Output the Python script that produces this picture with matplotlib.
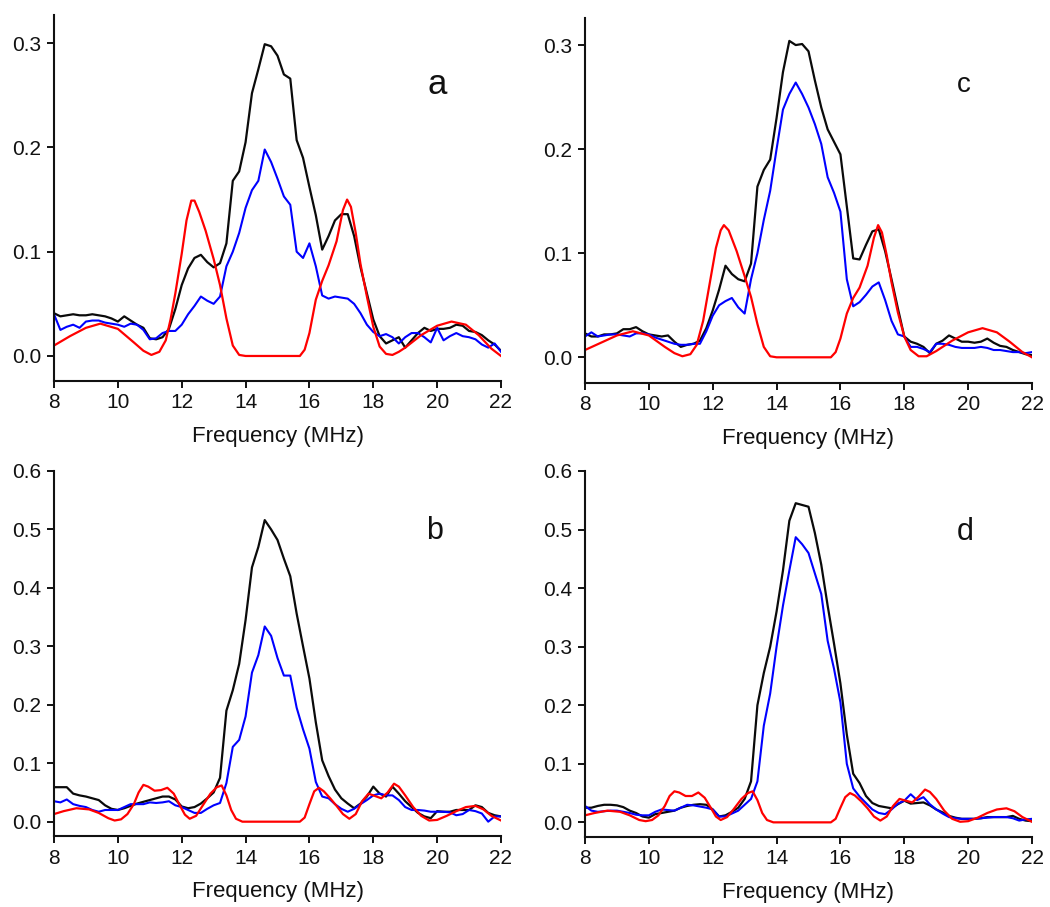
import numpy as np
import matplotlib
matplotlib.use("Agg")
import matplotlib.pyplot as plt

plt.rcParams['font.family'] = ['Liberation Sans', 'DejaVu Sans']

# common frequency grid (MHz) for measured spectra
freq = np.round(np.arange(8.0, 22.0001, 0.2), 2)

black_a = [0.041, 0.038, 0.039, 0.040, 0.039, 0.039, 0.040, 0.039, 0.038, 0.036,
           0.033, 0.038, 0.034, 0.030, 0.027, 0.017, 0.016, 0.018, 0.026, 0.045,
           0.068, 0.084, 0.094, 0.097, 0.090, 0.085, 0.089, 0.108, 0.168, 0.177,
           0.205, 0.252, 0.275, 0.299, 0.297, 0.288, 0.270, 0.266, 0.207, 0.190,
           0.162, 0.135, 0.102, 0.115, 0.130, 0.136, 0.136, 0.115, 0.085, 0.060,
           0.035, 0.019, 0.012, 0.015, 0.018, 0.008, 0.015, 0.022, 0.027, 0.024,
           0.026, 0.026, 0.027, 0.030, 0.029, 0.024, 0.023, 0.020, 0.015, 0.011,
           0.005]
blue_a = [0.040, 0.025, 0.028, 0.030, 0.027, 0.033, 0.034, 0.034, 0.032, 0.031,
          0.030, 0.028, 0.031, 0.030, 0.025, 0.016, 0.017, 0.022, 0.024, 0.024,
          0.030, 0.040, 0.048, 0.057, 0.053, 0.050, 0.057, 0.086, 0.100, 0.118,
          0.142, 0.159, 0.168, 0.198, 0.186, 0.170, 0.153, 0.145, 0.100, 0.094,
          0.108, 0.086, 0.058, 0.055, 0.057, 0.056, 0.055, 0.050, 0.041, 0.030,
          0.023, 0.019, 0.021, 0.018, 0.012, 0.018, 0.022, 0.022, 0.018, 0.013,
          0.027, 0.015, 0.019, 0.022, 0.019, 0.018, 0.016, 0.011, 0.008, 0.012,
          0.004]

black_c = [0.023, 0.020, 0.020, 0.022, 0.022, 0.023, 0.027, 0.027, 0.029, 0.025,
           0.022, 0.021, 0.020, 0.021, 0.015, 0.010, 0.012, 0.013, 0.016, 0.028,
           0.045, 0.065, 0.088, 0.080, 0.075, 0.073, 0.090, 0.164, 0.180, 0.190,
           0.230, 0.274, 0.304, 0.300, 0.301, 0.294, 0.266, 0.240, 0.219, 0.207,
           0.195, 0.145, 0.095, 0.094, 0.108, 0.121, 0.123, 0.102, 0.075, 0.047,
           0.020, 0.015, 0.013, 0.010, 0.004, 0.013, 0.016, 0.021, 0.018, 0.015,
           0.015, 0.014, 0.015, 0.018, 0.014, 0.011, 0.010, 0.007, 0.005, 0.003,
           0.002]
blue_c = [0.020, 0.024, 0.020, 0.021, 0.022, 0.022, 0.021, 0.020, 0.023, 0.023,
          0.022, 0.019, 0.017, 0.015, 0.013, 0.012, 0.012, 0.013, 0.013, 0.025,
          0.040, 0.050, 0.054, 0.057, 0.048, 0.042, 0.075, 0.100, 0.132, 0.160,
          0.200, 0.238, 0.253, 0.264, 0.253, 0.240, 0.224, 0.205, 0.173, 0.158,
          0.140, 0.075, 0.049, 0.053, 0.060, 0.068, 0.072, 0.055, 0.035, 0.022,
          0.020, 0.010, 0.010, 0.008, 0.005, 0.013, 0.013, 0.012, 0.010, 0.009,
          0.009, 0.009, 0.010, 0.009, 0.007, 0.007, 0.006, 0.005, 0.005, 0.004,
          0.005]

black_b = [0.059, 0.059, 0.059, 0.048, 0.045, 0.043, 0.040, 0.037, 0.028, 0.022,
           0.020, 0.023, 0.027, 0.031, 0.034, 0.037, 0.040, 0.043, 0.043, 0.038,
           0.026, 0.023, 0.025, 0.031, 0.040, 0.050, 0.075, 0.190, 0.225, 0.270,
           0.345, 0.435, 0.470, 0.516, 0.500, 0.482, 0.450, 0.420, 0.356, 0.300,
           0.245, 0.170, 0.105, 0.078, 0.055, 0.040, 0.031, 0.023, 0.031, 0.043,
           0.060, 0.048, 0.043, 0.060, 0.048, 0.035, 0.025, 0.015, 0.009, 0.006,
           0.018, 0.017, 0.017, 0.020, 0.020, 0.020, 0.028, 0.025, 0.015, 0.011,
           0.009]
blue_b = [0.035, 0.033, 0.038, 0.030, 0.027, 0.025, 0.020, 0.017, 0.020, 0.020,
          0.020, 0.025, 0.030, 0.030, 0.030, 0.033, 0.032, 0.033, 0.035, 0.028,
          0.025, 0.020, 0.015, 0.015, 0.022, 0.028, 0.032, 0.066, 0.128, 0.140,
          0.180, 0.255, 0.285, 0.334, 0.318, 0.280, 0.250, 0.250, 0.195, 0.158,
          0.125, 0.068, 0.043, 0.040, 0.030, 0.022, 0.017, 0.022, 0.030, 0.037,
          0.045, 0.048, 0.045, 0.045, 0.037, 0.025, 0.020, 0.020, 0.019, 0.017,
          0.017, 0.017, 0.016, 0.011, 0.013, 0.020, 0.018, 0.014, 0.000, 0.009,
          0.009]

black_d = [0.025, 0.025, 0.028, 0.030, 0.030, 0.029, 0.026, 0.020, 0.016, 0.010,
           0.008, 0.014, 0.016, 0.018, 0.020, 0.025, 0.028, 0.030, 0.031, 0.030,
           0.022, 0.010, 0.012, 0.018, 0.025, 0.040, 0.070, 0.200, 0.255, 0.300,
           0.360, 0.430, 0.515, 0.545, 0.542, 0.539, 0.494, 0.440, 0.370, 0.305,
           0.237, 0.150, 0.083, 0.067, 0.045, 0.033, 0.028, 0.026, 0.024, 0.031,
           0.037, 0.032, 0.033, 0.034, 0.029, 0.022, 0.017, 0.011, 0.008, 0.006,
           0.006, 0.006, 0.007, 0.009, 0.009, 0.009, 0.009, 0.011, 0.006, 0.003,
           0.002]
blue_d = [0.028, 0.020, 0.018, 0.019, 0.020, 0.020, 0.018, 0.016, 0.013, 0.012,
          0.012, 0.018, 0.022, 0.021, 0.020, 0.025, 0.030, 0.029, 0.027, 0.025,
          0.022, 0.010, 0.010, 0.015, 0.020, 0.030, 0.040, 0.070, 0.165, 0.220,
          0.300, 0.370, 0.430, 0.487, 0.475, 0.460, 0.425, 0.390, 0.310, 0.262,
          0.205, 0.100, 0.058, 0.044, 0.033, 0.022, 0.016, 0.014, 0.022, 0.032,
          0.037, 0.048, 0.038, 0.043, 0.031, 0.022, 0.015, 0.009, 0.007, 0.006,
          0.006, 0.006, 0.007, 0.008, 0.009, 0.009, 0.009, 0.007, 0.003, 0.005,
          0.006]

# calculated (red) curves, own frequency samples
red_x_a = [8.0, 8.5, 9.0, 9.45, 10.0, 10.5, 10.8, 11.05, 11.3, 11.5, 11.65, 11.8, 12.0, 12.15,
           12.3, 12.4, 12.55, 12.75, 13.0, 13.2, 13.4, 13.6, 13.8, 14.0, 15.7, 15.85, 16.0,
           16.2, 16.4, 16.6, 16.85, 17.05, 17.18, 17.3, 17.45, 17.6, 17.8, 18.0, 18.2, 18.4,
           18.6, 18.8, 19.0, 19.5, 20.0, 20.45, 20.9, 21.3, 21.7, 22.0]
red_a = [0.010, 0.019, 0.027, 0.031, 0.026, 0.013, 0.005, 0.001, 0.004, 0.015, 0.035, 0.060,
         0.098, 0.130, 0.149, 0.149, 0.138, 0.120, 0.093, 0.068, 0.036, 0.010, 0.001, 0.0,
         0.0, 0.006, 0.022, 0.054, 0.072, 0.087, 0.110, 0.140, 0.150, 0.143, 0.118, 0.088,
         0.057, 0.028, 0.009, 0.002, 0.001, 0.004, 0.008, 0.020, 0.029, 0.033, 0.030, 0.020,
         0.007, 0.0]

red_x_c = [8.0, 8.5, 9.0, 9.5, 10.0, 10.5, 10.8, 11.05, 11.3, 11.5, 11.7, 11.9, 12.1, 12.25,
           12.35, 12.5, 12.75, 13.0, 13.2, 13.4, 13.6, 13.8, 14.0, 15.7, 15.85, 16.0, 16.2,
           16.4, 16.6, 16.85, 17.05, 17.18, 17.3, 17.45, 17.6, 17.8, 18.0, 18.2, 18.45, 18.7,
           19.0, 19.5, 20.0, 20.45, 20.9, 21.3, 21.7, 22.0]
red_c = [0.007, 0.014, 0.021, 0.025, 0.021, 0.010, 0.004, 0.001, 0.003, 0.012, 0.035, 0.070,
         0.105, 0.122, 0.127, 0.122, 0.102, 0.078, 0.058, 0.032, 0.010, 0.001, 0.0, 0.0,
         0.005, 0.018, 0.042, 0.057, 0.067, 0.088, 0.115, 0.127, 0.120, 0.098, 0.072, 0.043,
         0.020, 0.007, 0.001, 0.001, 0.006, 0.016, 0.024, 0.028, 0.024, 0.015, 0.005, 0.0]

red_x_bd = [8.0, 8.3, 8.7, 9.1, 9.4, 9.7, 9.9, 10.1, 10.3, 10.5, 10.65, 10.8, 10.95, 11.15,
            11.35, 11.55, 11.75, 11.95, 12.1, 12.25, 12.45, 12.65, 12.9, 13.1, 13.25, 13.4,
            13.55, 13.7, 13.9, 15.7, 15.85, 16.0, 16.15, 16.3, 16.45, 16.65, 16.85, 17.05,
            17.25, 17.45, 17.65, 17.85, 18.05, 18.25, 18.45, 18.65, 18.8, 19.0, 19.25, 19.5,
            19.75, 20.0, 20.3, 20.6, 20.9, 21.2, 21.45, 21.7, 22.0]
red_b = [0.013, 0.018, 0.023, 0.021, 0.015, 0.006, 0.002, 0.004, 0.013, 0.030, 0.050, 0.063,
         0.060, 0.053, 0.054, 0.058, 0.048, 0.027, 0.012, 0.005, 0.010, 0.027, 0.048, 0.059,
         0.062, 0.045, 0.020, 0.005, 0.0, 0.0, 0.007, 0.030, 0.052, 0.058, 0.052, 0.040,
         0.027, 0.013, 0.005, 0.013, 0.035, 0.048, 0.044, 0.040, 0.050, 0.065, 0.060, 0.045,
         0.025, 0.010, 0.002, 0.003, 0.010, 0.018, 0.025, 0.027, 0.021, 0.010, 0.002]
red_d = [0.012, 0.016, 0.020, 0.018, 0.012, 0.004, 0.002, 0.004, 0.012, 0.028, 0.045, 0.053,
         0.051, 0.045, 0.045, 0.051, 0.042, 0.024, 0.010, 0.004, 0.009, 0.022, 0.040, 0.050,
         0.053, 0.038, 0.016, 0.004, 0.0, 0.0, 0.006, 0.025, 0.043, 0.050, 0.046, 0.036,
         0.024, 0.010, 0.003, 0.010, 0.028, 0.040, 0.037, 0.034, 0.044, 0.056, 0.052, 0.040,
         0.020, 0.006, 0.001, 0.002, 0.008, 0.016, 0.022, 0.024, 0.019, 0.009, 0.001]

x_ticks = [8, 10, 12, 14, 16, 18, 20, 22]
y_ticks_top = [0.0, 0.1, 0.2, 0.3]
y_ticks_bottom = [0.0, 0.1, 0.2, 0.3, 0.4, 0.5, 0.6]
x_label = "Frequency (MHz)"

W, H = 1050, 907
fig = plt.figure(figsize=(W / 100, H / 100), dpi=100)


def px_axes(left, top, right, bottom):
    return fig.add_axes([left / W, 1 - bottom / H, (right - left) / W, (bottom - top) / H])


panels = [
    dict(box=(54, 15, 501, 381), black=black_a, blue=blue_a, rx=red_x_a, red=red_a,
         ylim=(-0.024, 0.327), yt=y_ticks_top, lab="a", lx=437, ly=94, ls=25),
    dict(box=(585, 18, 1032, 382.7), black=black_c, blue=blue_c, rx=red_x_c, red=red_c,
         ylim=(-0.0244, 0.326), yt=y_ticks_top, lab="c", lx=964, ly=92, ls=20),
    dict(box=(54, 471, 501, 836), black=black_b, blue=blue_b, rx=red_x_bd, red=red_b,
         ylim=(-0.0245, 0.6), yt=y_ticks_bottom, lab="b", lx=435, ly=539, ls=22),
    dict(box=(585, 471, 1032, 836.7), black=black_d, blue=blue_d, rx=red_x_bd, red=red_d,
         ylim=(-0.0245, 0.6), yt=y_ticks_bottom, lab="d", lx=965, ly=540, ls=22),
]

for p in panels:
    ax = px_axes(*p["box"])
    ax.plot(freq, p["black"], color="#0a0a0a", lw=1.6, solid_joinstyle="round")
    ax.plot(freq, p["blue"], color="#0000ff", lw=1.5, solid_joinstyle="round")
    ax.plot(p["rx"], p["red"], color="#ff0000", lw=1.6, solid_joinstyle="round")
    ax.set_xlim(8, 22)
    ax.set_ylim(*p["ylim"])
    ax.set_xticks(x_ticks)
    ax.set_yticks(p["yt"])
    ax.set_yticklabels([f"{v:.1f}" for v in p["yt"]])
    for s in ("top", "right"):
        ax.spines[s].set_visible(False)
    for s in ("left", "bottom"):
        ax.spines[s].set_linewidth(1.5)
        ax.spines[s].set_color("#111111")
    ax.tick_params(direction="out", length=5, width=1.4, labelsize=15, pad=4,
                   colors="#111111", labelcolor="#111111")
    ax.set_xlabel(x_label, fontsize=16, labelpad=10, color="#111111")
    ax.patch.set_alpha(0)
    fig.text(p["lx"] / W, 1 - p["ly"] / H, p["lab"], fontsize=p["ls"],
             ha="center", va="baseline", color="#111111")

fig.savefig("out.png", dpi=100)
